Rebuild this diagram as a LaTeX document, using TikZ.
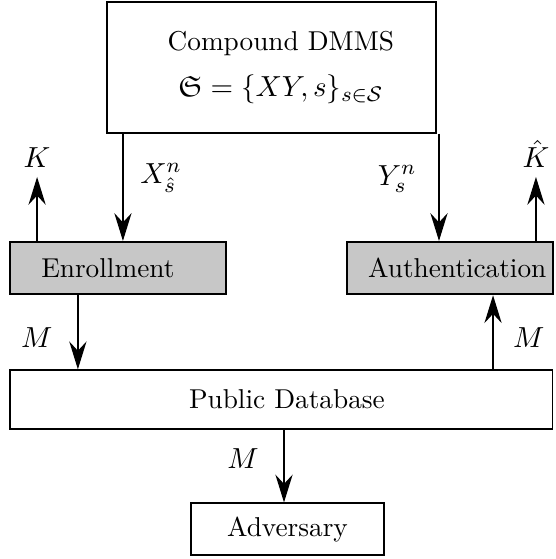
\documentclass[tikz,border=0pt]{standalone}
\usepackage{amssymb}
\usetikzlibrary{arrows.meta}
\tikzset{blk/.style = {shape = rectangle,
                       draw,
                       line width = 0.5pt,
                       inner sep = 2pt},
         unit/.style = {blk,
                        fill = black!22,
                        line width = 0.9pt,
                        minimum width = 81.5pt,
                        minimum height = 19.6pt},
         lbl/.style = {font=\fontsize{11}{13}\selectfont}}

\begin{document}
\begin{tikzpicture}[x=1pt, y=1pt,
                    font=\fontsize{10.3}{12.4}\selectfont,
                    line width=0.5pt,
                    >={Stealth[length=10.5pt,width=6.5pt,inset=3.5pt]}]
		\useasboundingbox (0,0) rectangle (209.5,211);
		\node[blk, minimum width=124.2pt, minimum height=49.4pt, align=center] (dmms) at (102.5,185.5)
			{\hspace*{7pt}Compound DMMS\\[5pt]\hspace*{7pt}{\fontsize{11}{13.2}\selectfont$\mathfrak{S}=\{XY,s\}_{s\in\mathcal{S}}$}};
		\node[unit] (enc) at (44.5,109.8) {\hspace*{-7.6pt}Enrollment};
		\node[unit, minimum width=77.7pt] (dec) at (169.8,109.8) {\hspace*{5.6pt}Authentication};
		\node[blk, minimum width=204.9pt, minimum height=22.3pt] (db) at (106.2,60.2) {\hspace*{4.2pt}Public Database};
		\node[blk, minimum width=72.8pt, minimum height=19.6pt] (adv) at (108.5,11.3) {Adversary};
		\node[lbl, anchor=south] (k) at (14.0,144.2) {$K$};
		\node[lbl, anchor=south] (kh) at (202.3,144.2) {$\hat{K}$};
		\coordinate (xcol) at (46.4,0);
		\coordinate (ycol) at (165.7,0);
		\coordinate (m1) at (29.4,0);
		\coordinate (m2) at (186.1,0);
		\coordinate (m3) at (107.2,0);
		\draw[->] (enc.north -| k) -- (k);
		\draw[->] (dec.north -| kh) -- (kh);
		\draw[->] (dmms.south -| xcol) -- (enc.north -| xcol) node[lbl, midway, right=3pt, yshift=3.5pt] {$X_{\hat{s}}^n$};
		\draw[->] (dmms.south -| ycol) -- (dec.north -| ycol) node[lbl, midway, left=5pt, yshift=3.2pt] {$Y_s^n$};
		\draw[->] (enc.south -| m1) -- (db.north -| m1) node[lbl, midway, left=6pt, yshift=-2pt] {$M$};
		\draw[->] (db.north -| m2) -- (dec.south -| m2) node[lbl, midway, right=4pt, yshift=-2pt] {$M$};
		\draw[->] (db.south -| m3) -- (adv.north -| m3) node[lbl, midway, left=6pt, yshift=3pt] {$M$};
	\end{tikzpicture}
\end{document}
